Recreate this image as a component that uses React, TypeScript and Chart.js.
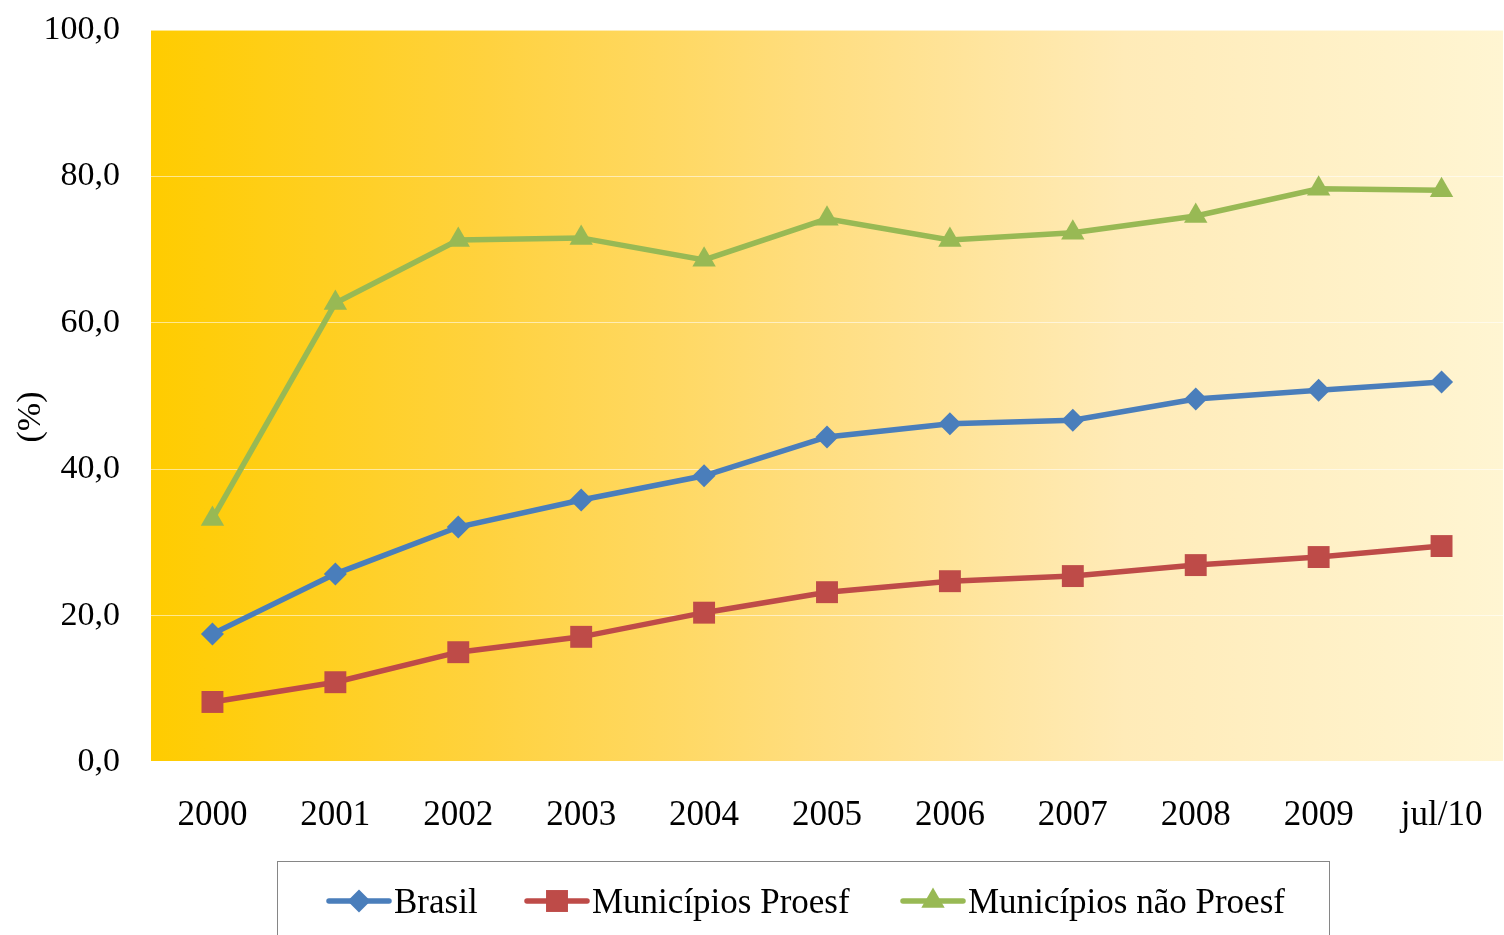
import React, { useEffect, useRef } from "react";
import { Chart, registerables } from "chart.js";
Chart.register(...registerables);

const categories = ["2000", "2001", "2002", "2003", "2004", "2005", "2006", "2007", "2008", "2009", "jul/10"];
const brasil = [17.5, 25.7, 32.1, 35.8, 39.1, 44.4, 46.2, 46.7, 49.6, 50.8, 51.9];
const proesf = [8.2, 10.9, 15.0, 17.1, 20.4, 23.2, 24.7, 25.4, 26.9, 28.0, 29.5];
const naoProesf = [33.2, 62.7, 71.3, 71.6, 68.6, 74.2, 71.3, 72.3, 74.6, 78.3, 78.1];
const seriesNames = ["Brasil", "Municípios Proesf", "Municípios não Proesf"];
const yMin = 0;
const yMax = 100;
const yStep = 20;
const yTitle = "(%)";

const COLORS = ["#4A7EBB", "#BE4B48", "#98B954"];
const STYLES = ["rectRot", "rect", "triangle"];
const RADII = [11.5, 15.5, 13.5];
const FONT = "'Liberation Serif', 'Times New Roman', serif";

function drawMarker(ctx: CanvasRenderingContext2D, style: string, x: number, y: number, r: number, color: string) {
  ctx.save();
  ctx.fillStyle = color;
  ctx.beginPath();
  if (style === "rectRot") {
    ctx.moveTo(x, y - r);
    ctx.lineTo(x + r, y);
    ctx.lineTo(x, y + r);
    ctx.lineTo(x - r, y);
  } else if (style === "rect") {
    const s = Math.SQRT1_2 * r;
    ctx.rect(x - s, y - s, 2 * s, 2 * s);
  } else {
    ctx.moveTo(x, y - r);
    ctx.lineTo(x + r * Math.sin(Math.PI * 2 / 3), y + r / 2);
    ctx.lineTo(x - r * Math.sin(Math.PI * 2 / 3), y + r / 2);
  }
  ctx.closePath();
  ctx.fill();
  ctx.restore();
}

const bgPlugin = {
  id: "bgGradient",
  beforeDraw(chart: any) {
    const { ctx, chartArea } = chart;
    if (!chartArea) return;
    const g = ctx.createLinearGradient(chartArea.left, 0, chartArea.right, 0);
    g.addColorStop(0, "#FFCC00");
    g.addColorStop(0.25, "#FFD23F");
    g.addColorStop(0.5, "#FFDE82");
    g.addColorStop(0.72, "#FFEBB8");
    g.addColorStop(1, "#FFF5D2");
    ctx.save();
    ctx.fillStyle = g;
    ctx.fillRect(chartArea.left, chartArea.top, chartArea.right - chartArea.left, chartArea.bottom - chartArea.top);
    ctx.restore();
  },
};

const extrasPlugin = {
  id: "extras",
  afterDraw(chart: any) {
    const { ctx, chartArea } = chart;
    ctx.save();
    ctx.font = `34px ${FONT}`;
    ctx.fillStyle = "#000";
    ctx.textAlign = "center";
    ctx.textBaseline = "middle";
    ctx.translate(31, (chartArea.top + chartArea.bottom) / 2 + 21);
    ctx.rotate(-Math.PI / 2);
    ctx.fillText(yTitle, 0, 0);
    ctx.restore();

    ctx.save();
    ctx.strokeStyle = "#868686";
    ctx.lineWidth = 1;
    ctx.strokeRect(277.5, 861.5, 1052, 120);
    const starts = [329, 527, 903];
    ctx.font = `35px ${FONT}`;
    ctx.textAlign = "left";
    ctx.textBaseline = "alphabetic";
    seriesNames.forEach((name, i) => {
      const x0 = starts[i];
      const y = 901;
      ctx.strokeStyle = COLORS[i];
      ctx.lineWidth = 5.5;
      ctx.lineCap = "round";
      ctx.beginPath();
      ctx.moveTo(x0, y);
      ctx.lineTo(x0 + 60, y);
      ctx.stroke();
      drawMarker(ctx, STYLES[i], x0 + 30, y, RADII[i], COLORS[i]);
      ctx.fillStyle = "#000";
      ctx.fillText(name, x0 + 65, 913);
    });
    ctx.restore();
  },
};

export default function App() {
  const ref = useRef<HTMLCanvasElement>(null);
  useEffect(() => {
    document.body.style.margin = "0";
    const series = [brasil, proesf, naoProesf];
    const chart = new Chart(ref.current as HTMLCanvasElement, {
      type: "line",
      data: {
        labels: categories,
        datasets: series.map((d, i) => ({
          label: seriesNames[i],
          data: d,
          borderColor: COLORS[i],
          backgroundColor: COLORS[i],
          borderWidth: 5.5,
          pointStyle: STYLES[i] as any,
          pointRadius: RADII[i],
          pointBorderWidth: 0,
          pointBackgroundColor: COLORS[i],
          tension: 0,
          clip: false as any,
          order: 3 - i,
        })),
      },
      options: {
        responsive: false,
        animation: false,
        layout: { autoPadding: false, padding: { top: 30, right: 1, left: 0, bottom: 0 } },
        plugins: {
          legend: { display: false },
          tooltip: { enabled: false },
        },
        scales: {
          x: {
            offset: true,
            afterFit: (s: any) => {
              s.height = 173;
              s.paddingLeft = 0;
              s.paddingRight = 0;
            },
            border: { display: true, color: "#FFFFFF", width: 2 },
            grid: { display: true, drawOnChartArea: false, drawTicks: true, tickLength: 6, color: "#FFFFFF", offset: true },
            ticks: { color: "#000", font: { family: FONT, size: 35 }, padding: 27, maxRotation: 0, autoSkip: false },
          },
          y: {
            min: yMin,
            max: yMax,
            afterFit: (s: any) => {
              s.width = 151;
              s.paddingTop = 0;
              s.paddingBottom = 0;
            },
            border: { display: false },
            grid: { color: "rgba(255,255,255,0.55)", lineWidth: 1, drawTicks: false },
            ticks: {
              stepSize: yStep,
              color: "#000",
              padding: 31,
              font: { family: FONT, size: 34 },
              callback: (v: any) => Number(v).toFixed(1).replace(".", ","),
            },
          },
        },
      },
      plugins: [bgPlugin, extrasPlugin],
    });
    return () => chart.destroy();
  }, []);
  return (
    <div style={{ position: "absolute", left: 0, top: 0 }}>
      <canvas ref={ref} width={1504} height={935} style={{ display: "block", width: 1504, height: 935 }} />
    </div>
  );
}
